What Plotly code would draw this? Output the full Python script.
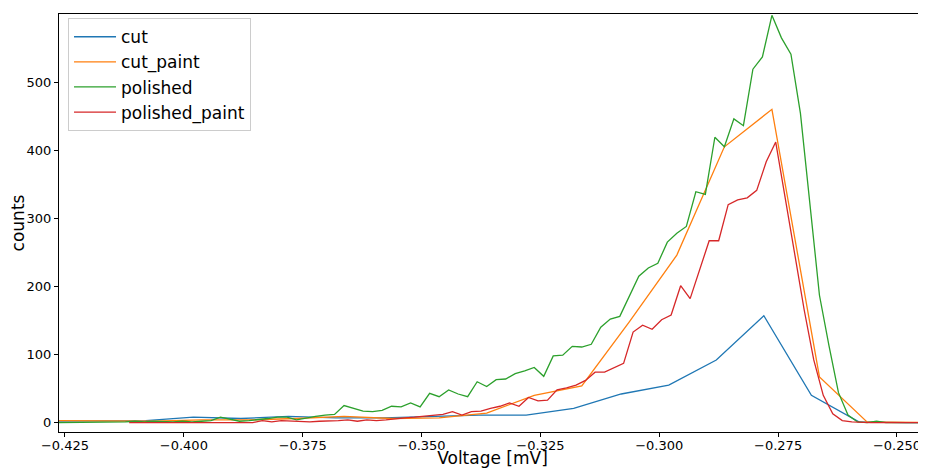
import plotly.graph_objects as go

# ---- data ----
cut_x = [-0.4280, -0.4180, -0.4080, -0.3980, -0.3880, -0.3780, -0.3680, -0.3580, -0.3480, -0.3380,
         -0.3280, -0.3180, -0.3080, -0.2980, -0.2880, -0.2780, -0.2680, -0.2580, -0.2480, -0.2380]
cut_y = [2, 2, 3, 8, 6, 9, 7, 7, 9, 11,
         11, 21, 42, 55, 92, 157, 40, 1, 0, 0]

cut_paint_x = [-0.4263, -0.4163, -0.4063, -0.3963, -0.3863, -0.3763, -0.3663, -0.3563, -0.3463, -0.3363,
               -0.3263, -0.3163, -0.3063, -0.2963, -0.2863, -0.2763, -0.2663, -0.2563, -0.2463, -0.2363]
cut_paint_y = [3, 3, 2, 4, 4, 6, 9, 6, 7, 14,
               40, 54, 148, 246, 405, 460, 67, 1, 0, 0]

polished_x = [-0.4263, -0.4243, -0.4223, -0.4203, -0.4183, -0.4163, -0.4143, -0.4123, -0.4103, -0.4083,
              -0.4063, -0.4043, -0.4023, -0.4003, -0.3983, -0.3963, -0.3943, -0.3923, -0.3903, -0.3883,
              -0.3863, -0.3843, -0.3823, -0.3803, -0.3783, -0.3763, -0.3743, -0.3723, -0.3703, -0.3683,
              -0.3663, -0.3643, -0.3623, -0.3603, -0.3583, -0.3563, -0.3543, -0.3523, -0.3503, -0.3483,
              -0.3463, -0.3443, -0.3423, -0.3403, -0.3383, -0.3363, -0.3343, -0.3323, -0.3303, -0.3283,
              -0.3263, -0.3243, -0.3223, -0.3203, -0.3183, -0.3163, -0.3143, -0.3123, -0.3103, -0.3083,
              -0.3063, -0.3043, -0.3023, -0.3003, -0.2983, -0.2963, -0.2943, -0.2923, -0.2903, -0.2883,
              -0.2863, -0.2843, -0.2823, -0.2803, -0.2783, -0.2763, -0.2743, -0.2723, -0.2703, -0.2683,
              -0.2663, -0.2643, -0.2623, -0.2603, -0.2583, -0.2563, -0.2543, -0.2523, -0.2503, -0.2483,
              -0.2463, -0.2443]
polished_y = [0, 0, 0, 0, 0, 0,
              1, 1, 2, 1, 2, 1, 1, 2, 1, 2,
              3, 8, 5, 2, 3, 4, 6, 8, 8, 4,
              7, 9, 11, 12, 25, 21, 17, 16, 18, 24,
              23, 29, 23, 43, 38, 48, 42, 38, 60, 53,
              63, 64, 72, 76, 81, 68, 98, 99, 112, 111,
              115, 140, 152, 156, 186, 215, 227, 234, 265, 278,
              288, 339, 335, 419, 405, 446, 436, 519, 537, 598,
              565, 541, 454, 323, 187, 113, 44, 11, 1, 0,
              2, 0, 0, 0, 0, 0]

polished_paint_x = [-0.4115, -0.4095, -0.4075, -0.4055, -0.4035, -0.4015, -0.3995, -0.3975, -0.3955, -0.3935,
                    -0.3915, -0.3895, -0.3875, -0.3855, -0.3835, -0.3815, -0.3795, -0.3775, -0.3755, -0.3735,
                    -0.3715, -0.3695, -0.3675, -0.3655, -0.3635, -0.3615, -0.3595, -0.3575, -0.3555, -0.3535,
                    -0.3515, -0.3495, -0.3475, -0.3455, -0.3435, -0.3415, -0.3395, -0.3375, -0.3355, -0.3335,
                    -0.3315, -0.3295, -0.3275, -0.3255, -0.3235, -0.3215, -0.3195, -0.3175, -0.3155, -0.3135,
                    -0.3115, -0.3095, -0.3075, -0.3055, -0.3035, -0.3015, -0.2995, -0.2975, -0.2955, -0.2935,
                    -0.2915, -0.2895, -0.2875, -0.2855, -0.2835, -0.2815, -0.2795, -0.2775, -0.2755, -0.2735,
                    -0.2715, -0.2695, -0.2675, -0.2655, -0.2635, -0.2615, -0.2595, -0.2575, -0.2555, -0.2535,
                    -0.2515, -0.2495, -0.2475, -0.2455, -0.2435]
polished_paint_y = [0, 0, 0, 0, 0, 0, 0, 0, 1, 0, 0, 0, 0,
                    0, 3, 1, 3, 2, 1, 1, 2, 2, 3, 4, 2, 4, 3, 4,
                    6, 7, 8, 9, 11, 12, 16, 11, 16, 17,
                    21, 24, 29, 24, 37, 32, 33, 48, 51, 55,
                    62, 74, 74, 80, 87, 133, 143, 137, 151, 158,
                    201, 182, 224, 267, 267, 320, 327, 330, 341, 383,
                    412,
                    330, 247, 165, 92, 40, 13, 3, 1,
                    0, 0, 0, 0, 0, 0, 0, 0]

series = [
    ("cut", cut_x, cut_y, "#1f77b4"),
    ("cut_paint", cut_paint_x, cut_paint_y, "#ff7f0e"),
    ("polished", polished_x, polished_y, "#2ca02c"),
    ("polished_paint", polished_paint_x, polished_paint_y, "#d62728"),
]

x_ticks = [-0.425, -0.400, -0.375, -0.350, -0.325, -0.300, -0.275, -0.250]
x_tick_labels = ["\u22120.425", "\u22120.400", "\u22120.375", "\u22120.350",
                 "\u22120.325", "\u22120.300", "\u22120.275", "\u22120.250"]
y_ticks = [0, 100, 200, 300, 400, 500]

FONT = "DejaVu Sans"

fig = go.Figure()
for name, xs, ys, col in series:
    fig.add_trace(go.Scatter(x=xs, y=ys, mode="lines", name=name, legendgroup=name,
                             line=dict(color=col, width=1.3)))

fig.update_layout(
    width=918, height=460,
    margin=dict(l=51, r=0, t=6, b=36, autoexpand=False),
    plot_bgcolor="white", paper_bgcolor="white",
    font=dict(family=FONT, size=13, color="black"),
    showlegend=True,
    legend=dict(x=0.0104, y=0.990, xanchor="left", yanchor="top",
                bgcolor="rgba(255,255,255,0.8)", bordercolor="#cccccc", borderwidth=1,
                font=dict(family=FONT, size=17, color="black"),
                tracegroupgap=0, itemwidth=42),
    xaxis=dict(range=[-0.42626, -0.24389], tickvals=x_ticks, ticktext=x_tick_labels,
               automargin=False, ticklabelstandoff=-3,
               showgrid=False, zeroline=False, showline=True, linecolor="black", linewidth=1,
               mirror=True, ticks="outside", ticklen=4, tickcolor="black",
               title=dict(text="Voltage [mV]", font=dict(family=FONT, size=17), standoff=8)),
    yaxis=dict(range=[-13.8, 600], tickvals=y_ticks, automargin=False,
               showgrid=False, zeroline=False, showline=True, linecolor="black", linewidth=1,
               mirror=False, ticks="outside", ticklen=4, tickcolor="black",
               title=dict(text="counts", font=dict(family=FONT, size=17), standoff=10)),
)

fig.write_html("out.html")
